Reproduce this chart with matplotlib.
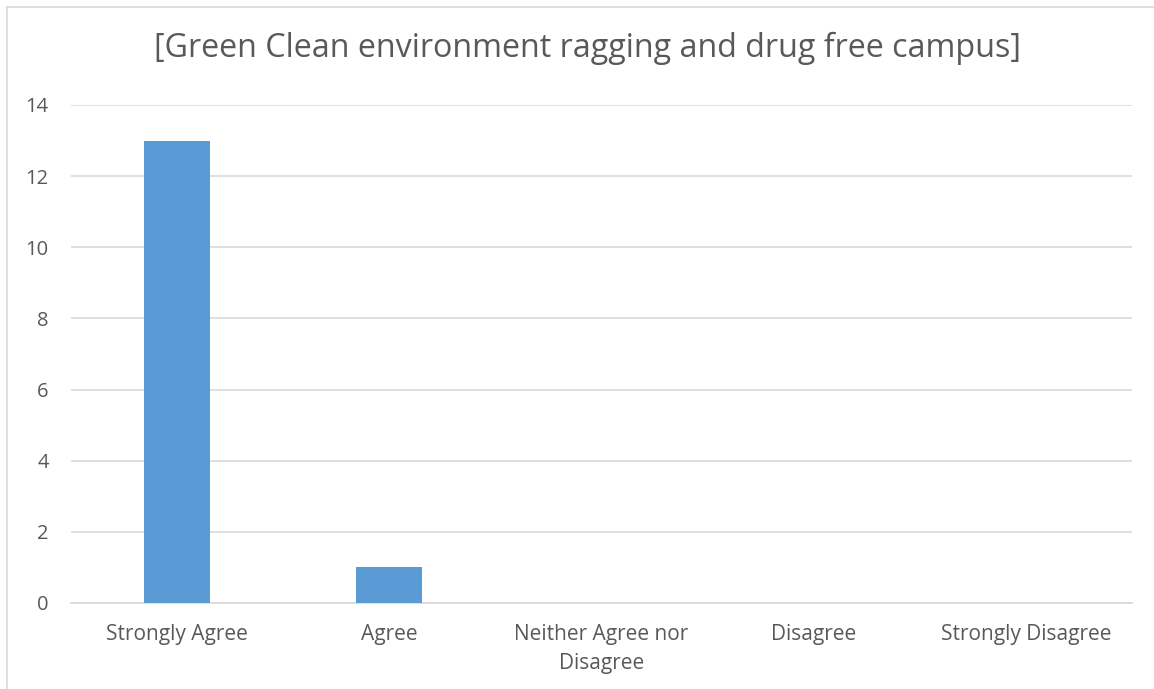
import matplotlib.pyplot as plt
from matplotlib.lines import Line2D

categories = ["Strongly Agree", "Agree", "Neither Agree nor\nDisagree", "Disagree", "Strongly Disagree"]
counts = [13, 1, 0, 0, 0]
yticks = [0, 2, 4, 6, 8, 10, 12, 14]

W, H = 1154, 689
fig = plt.figure(figsize=(W / 100, H / 100), dpi=100)
ax = fig.add_axes([71 / W, 1 - 603 / H, (1132 - 71) / W, (603 - 105) / H])

ax.bar(range(len(categories)), counts, width=0.31, color="#5b9bd5", zorder=3)
ax.set_xlim(-0.5, len(categories) - 0.5)
ax.set_ylim(0, 14)
ax.set_yticks(yticks)
ax.set_xticks(range(len(categories)))
ax.set_xticklabels(categories, linespacing=1.5)

for s in ["top", "right", "left"]:
    ax.spines[s].set_visible(False)
ax.spines["bottom"].set_color("#d9d9d9")
ax.spines["bottom"].set_linewidth(1.2)
ax.grid(axis="y", color="#d9d9d9", linewidth=1.2, zorder=0)
ax.tick_params(axis="x", length=0, colors="#595959", labelsize=15, pad=15)
ax.tick_params(axis="y", length=0, colors="#595959", labelsize=14.5, pad=16)
for lbl in ax.get_xticklabels() + ax.get_yticklabels():
    lbl.set_family("Open Sans")

fig.text(587 / W, 1 - 48 / H, "[Green Clean environment ragging and drug free campus]",
         ha="center", va="center", fontsize=23.2, color="#595959", family="Open Sans")

# outer chart border (only left and top edges visible)
fig.add_artist(Line2D([6.5 / W, 6.5 / W], [0, 1 - 6.5 / H], color="#d9d9d9", linewidth=1.2))
fig.add_artist(Line2D([6.5 / W, 1], [1 - 6.5 / H, 1 - 6.5 / H], color="#d9d9d9", linewidth=1.2))

fig.savefig("out.png", dpi=100)
